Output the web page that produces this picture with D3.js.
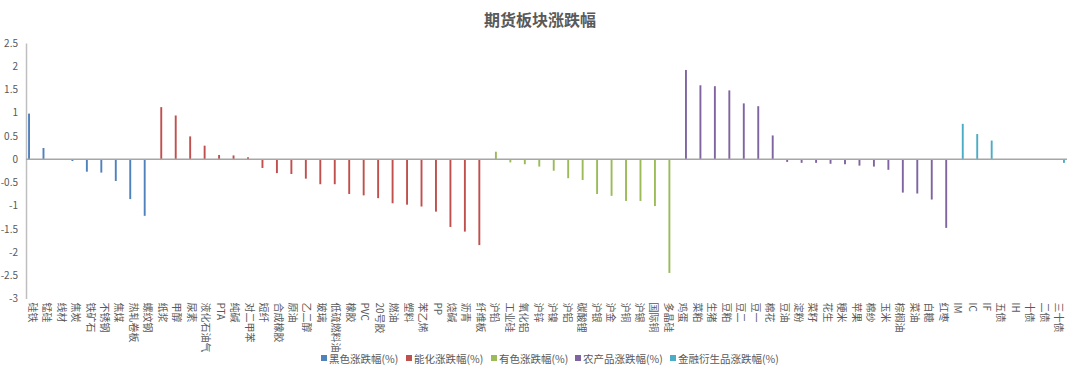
<!DOCTYPE html>
<html>
<head>
<meta charset="utf-8">
<script src="https://cdn.jsdelivr.net/npm/d3@7"></script>
<style>
  body { margin:0; background:#fff; }
  svg text { font-family:"Noto Sans CJK SC","Noto Sans",sans-serif; fill:#595959; }
</style>
</head>
<body>
<div id="chart"></div>
<script>
// ---- data ----
const seriesNames = ['黑色涨跌幅(%)','能化涨跌幅(%)','有色涨跌幅(%)','农产品涨跌幅(%)','金融衍生品涨跌幅(%)'];
const seriesColors = ['#4F81BD','#C0504D','#9BBB59','#8064A2','#4BACC6'];

const blackCats = ['硅铁','锰硅','线材','焦炭','铁矿石','不锈钢','焦煤','热轧卷板','螺纹钢'];
const blackVals = [0.98,0.24,0,-0.04,-0.27,-0.29,-0.47,-0.86,-1.22];

const chemCats = ['纸浆','甲醇','尿素','液化石油气','PTA','纯碱','对二甲苯','短纤','合成橡胶','原油','乙二醇','玻璃',
                  '低硫燃料油','橡胶','PVC','20号胶','燃油','塑料','苯乙烯','PP','烧碱','沥青','纤维板'];
const chemVals = [1.12,0.94,0.49,0.29,0.09,0.08,0.04,-0.19,-0.30,-0.32,-0.42,-0.54,
                  -0.54,-0.75,-0.78,-0.84,-0.95,-0.98,-1.02,-1.13,-1.46,-1.56,-1.85];

const metalCats = ['沪铅','工业硅','氧化铝','沪锌','沪镍','沪铝','碳酸锂','沪银','沪金','沪铜','沪锡','国际铜','多晶硅'];
const metalVals = [0.16,-0.07,-0.11,-0.16,-0.25,-0.41,-0.45,-0.75,-0.79,-0.90,-0.90,-1.01,-2.45];

const agriCats = ['鸡蛋','菜粕','生猪','豆粕','豆二','豆一','棉花','豆油','淀粉','菜籽','花生','粳米','苹果','棉纱',
                  '玉米','棕榈油','菜油','白糖','红枣'];
const agriVals = [1.92,1.59,1.57,1.48,1.20,1.14,0.51,-0.06,-0.08,-0.08,-0.10,-0.11,-0.14,-0.16,
                  -0.23,-0.72,-0.74,-0.87,-1.48];

const finCats = ['IM','IC','IF','五债','IH','十债','二债','三十债'];
const finVals = [0.76,0.54,0.40,0,0,0,0,-0.08];

const yTicks = [2.5,2,1.5,1,0.5,0,-0.5,-1,-1.5,-2,-2.5,-3];

// build rows: each category belongs to one series
const groups = [[blackCats,blackVals],[chemCats,chemVals],[metalCats,metalVals],[agriCats,agriVals],[finCats,finVals]];
const rows = groups.flatMap(([cats,vals],si)=>cats.map((c,i)=>({cat:c, s:si, v:vals[i]})));

// ---- layout ----
const WIDTH = 1080, HEIGHT = 375;
const PLOT = {left:26, right:1067, top:43, bottom:298.5};

const svg = d3.select('#chart').append('svg')
  .attr('width',WIDTH).attr('height',HEIGHT);

const x0 = d3.scaleBand()
  .domain(rows.map(r=>r.cat))
  .range([PLOT.left, PLOT.right])
  .paddingInner(0).paddingOuter(0);
const x1 = d3.scaleBand()
  .domain(d3.range(seriesNames.length))
  .range([-5.25, 5.25]);
const y = d3.scaleLinear().domain([-3,2.5]).range([PLOT.bottom, PLOT.top]);

// title
svg.append('text')
  .attr('x',540).attr('y',26)
  .attr('text-anchor','middle')
  .style('font-size','16px').style('font-weight','bold')
  .text('期货板块涨跌幅');

// y axis
const yAxis = svg.append('g')
  .attr('transform',`translate(${PLOT.left},0)`)
  .call(d3.axisLeft(y).tickValues(yTicks).tickFormat(d=>String(d)).tickSize(0).tickPadding(8));
yAxis.select('.domain').attr('stroke','#bfbfbf').attr('stroke-width',1.5);
yAxis.selectAll('text').style('font-size','10px').style('fill','#595959');

// bars
svg.append('g').selectAll('rect')
  .data(rows)
  .join('rect')
  .attr('x',d=>x0(d.cat)+x0.bandwidth()/2+x1(d.s)+0.1)
  .attr('width',x1.bandwidth()-0.2)
  .attr('y',d=>y(Math.max(0,d.v)))
  .attr('height',d=>Math.abs(y(d.v)-y(0)))
  .attr('fill',d=>seriesColors[d.s]);

// zero line
svg.append('line')
  .attr('x1',PLOT.left).attr('x2',PLOT.right)
  .attr('y1',y(0)).attr('y2',y(0))
  .attr('stroke','#a6a6a6').attr('stroke-width',1.5);

// category labels, rotated to read top-down
svg.append('g').selectAll('text')
  .data(rows)
  .join('text')
  .attr('transform',d=>`translate(${x0(d.cat)+x0.bandwidth()/2},${PLOT.bottom+4}) rotate(90)`)
  .attr('text-anchor','start')
  .attr('dominant-baseline','central')
  .style('font-size','10px')
  .text(d=>d.cat);

// legend
const legendX = [321, 406, 491, 575, 670];
const legend = svg.append('g').selectAll('g')
  .data(seriesNames)
  .join('g')
  .attr('transform',(d,i)=>`translate(${legendX[i]},358)`);
legend.append('rect')
  .attr('x',0).attr('y',-3).attr('width',6).attr('height',6)
  .attr('fill',(d,i)=>seriesColors[i]);
legend.append('text')
  .attr('x',8).attr('y',0)
  .attr('dominant-baseline','central')
  .style('font-size','10.5px')
  .text(d=>d);
</script>
</body>
</html>
